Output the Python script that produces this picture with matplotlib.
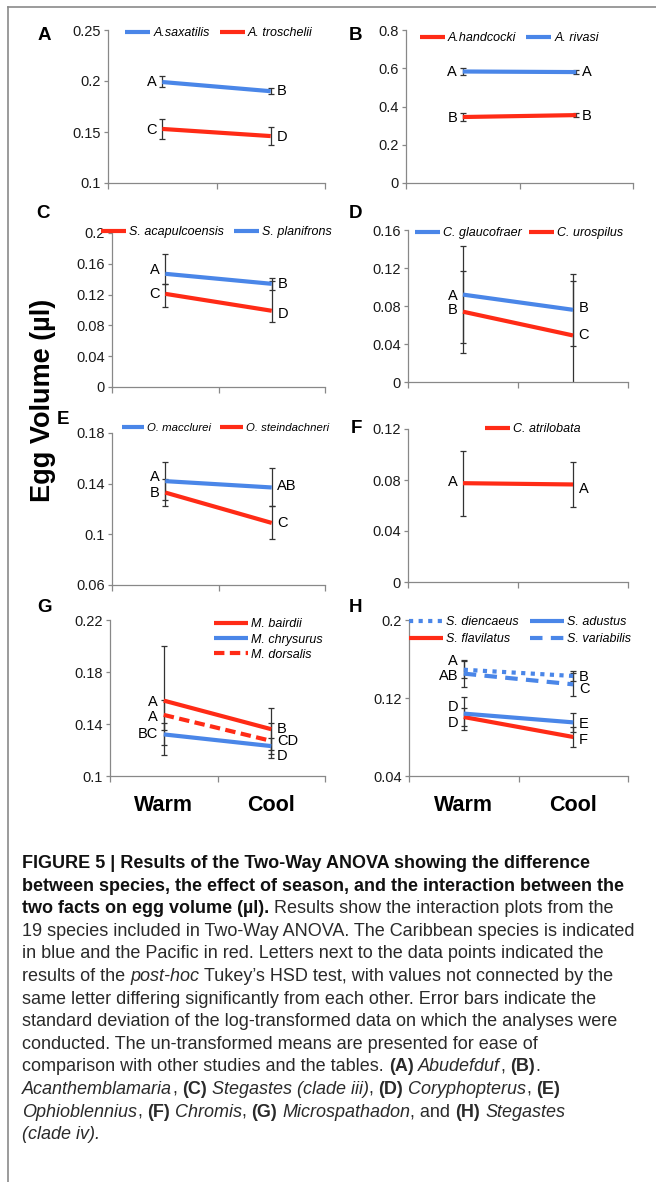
import matplotlib
matplotlib.use("Agg")
import matplotlib.pyplot as plt
from matplotlib import font_manager
from matplotlib.lines import Line2D
from matplotlib.ticker import FuncFormatter
import numpy as np

plt.rcParams['font.family'] = ['Liberation Sans', 'DejaVu Sans']

BLUE = '#4a86e8'
RED = '#ff2b16'

seasons = ['Warm', 'Cool']

# ---- panel A: Abudefduf ----
a_names = ['A.saxatilis', 'A. troschelii']
a_means = [[0.199, 0.190], [0.153, 0.146]]
a_lo = [[0.005, 0.003], [0.010, 0.009]]
a_hi = [[0.006, 0.003], [0.010, 0.009]]
a_letters = [['A', 'B'], ['C', 'D']]

# ---- panel B: Acanthemblemaria ----
b_names = ['A.handcocki', 'A. rivasi']
b_means = [[0.345, 0.355], [0.583, 0.580]]
b_lo = [[0.020, 0.012], [0.018, 0.012]]
b_hi = [[0.020, 0.012], [0.018, 0.012]]
b_letters = [['B', 'B'], ['A', 'A']]

# ---- panel C: Stegastes (clade iii) ----
c_names = ['S. acapulcoensis', 'S. planifrons']
c_means = [[0.121, 0.099], [0.147, 0.134]]
c_lo = [[0.017, 0.014], [0.013, 0.008]]
c_hi = [[0.013, 0.039], [0.026, 0.008]]
c_letters = [['C', 'D'], ['A', 'B']]

# ---- panel D: Coryphopterus ----
d_names = ['C. glaucofraer', 'C. urospilus']
d_means = [[0.092, 0.076], [0.074, 0.049]]
d_lo = [[0.051, 0.038], [0.043, 0.057]]
d_hi = [[0.051, 0.038], [0.043, 0.057]]
d_letters = [['A', 'B'], ['B', 'C']]

# ---- panel E: Ophioblennius ----
e_names = ['O. macclurei', 'O. steindachneri']
e_means = [[0.142, 0.137], [0.133, 0.109]]
e_lo = [[0.015, 0.015], [0.011, 0.013]]
e_hi = [[0.015, 0.015], [0.011, 0.013]]
e_letters = [['A', 'AB'], ['B', 'C']]

# ---- panel F: Chromis ----
f_names = ['C. atrilobata']
f_means = [[0.0775, 0.0765]]
f_lo = [[0.0255, 0.018]]
f_hi = [[0.0255, 0.018]]
f_letters = [['A', 'A']]

# ---- panel G: Microspathodon ----
g_names = ['M. bairdii', 'M. chrysurus', 'M. dorsalis']
g_means = [[0.158, 0.136], [0.132, 0.123], [0.147, 0.127]]
g_lo = [[0.042, 0.016], [0.0085, 0.006], [0.0115, 0.0135]]
g_hi = [[0.042, 0.016], [0.0085, 0.006], [0.0115, 0.0135]]
g_letters = [['A', 'B'], ['BC', 'D'], ['A', 'CD']]

# ---- panel H: Stegastes (clade iv) ----
h_names = ['S. diencaeus', 'S. flavilatus', 'S. adustus', 'S. variabilis']
h_means = [[0.149, 0.1426], [0.1005, 0.080], [0.104, 0.095], [0.145, 0.134]]
h_lo = [[0.0085, 0.0055], [0.009, 0.010], [0.017, 0.010], [0.014, 0.012]]
h_hi = [[0.0085, 0.0055], [0.009, 0.010], [0.017, 0.010], [0.014, 0.012]]
h_letters = [['A', 'B'], ['D', 'F'], ['D', 'E'], ['AB', 'C']]

W, H = 656, 1182
fig = plt.figure(figsize=(W / 100, H / 100), dpi=100)


def px_axes(x0, x1, y0, y1):
    return fig.add_axes([x0 / W, 1 - y1 / H, (x1 - x0) / W, (y1 - y0) / H])


def panel(ax, names, means, lo, hi, letters, colors, styles, dys, ylim, yticks):
    xs = np.array([0.5, 1.5])
    for i in range(len(names)):
        ax.errorbar(xs, means[i], yerr=[lo[i], hi[i]], fmt='none', ecolor='#333333',
                    elinewidth=0.9, capsize=2.5, capthick=0.9, zorder=2)
    for i in range(len(names)):
        ax.plot(xs, means[i], color=colors[i], lw=3, linestyle=styles[i],
                label=names[i], zorder=3, solid_capstyle='butt')
        ax.annotate(letters[i][0], (xs[0], means[i][0]), xytext=(-4, dys[i][0]),
                    textcoords='offset points', ha='right', va='center', fontsize=10.5)
        ax.annotate(letters[i][1], (xs[1], means[i][1]), xytext=(4, dys[i][1]),
                    textcoords='offset points', ha='left', va='center', fontsize=10.5)
    ax.set_xlim(0, 2)
    ax.set_ylim(*ylim)
    ax.set_yticks(yticks)
    ax.set_xticks([0, 1, 2])
    ax.set_xticklabels([])
    ax.yaxis.set_major_formatter(FuncFormatter(lambda v, p: f'{v:g}'))
    for s in ['top', 'right']:
        ax.spines[s].set_visible(False)
    for s in ['left', 'bottom']:
        ax.spines[s].set_color('#888888')
        ax.spines[s].set_linewidth(0.9)
    ax.tick_params(axis='y', length=3, width=0.9, color='#888888', labelsize=10.5,
                   labelcolor='#1a1a1a', pad=2)
    ax.tick_params(axis='x', length=4, width=0.9, color='#888888')
    ax.patch.set_alpha(0)


def leg(ax, ncol, anchor, size=9, **kw):
    return ax.legend(loc='upper left', bbox_to_anchor=anchor, ncol=ncol, frameon=False,
                     prop={'style': 'italic', 'size': size}, borderpad=0, borderaxespad=0,
                     handletextpad=0.25, **kw)


axA = px_axes(108, 325, 30, 183)
panel(axA, a_names, a_means, a_lo, a_hi, a_letters, [BLUE, RED], ['-', '-'],
      [[0, 0], [-1, -1]], (0.1, 0.25), np.arange(0.1, 0.26, 0.05))
leg(axA, 2, (0.08, 1.017), handlelength=2.0, columnspacing=0.8)

axB = px_axes(406, 633, 30, 183)
panel(axB, b_names, b_means, b_lo, b_hi, b_letters, [RED, BLUE], ['-', '-'],
      [[-1, -1], [0, 0]], (0, 0.8), np.arange(0, 0.81, 0.2))
leg(axB, 2, (0.06, 0.984), handlelength=2.0, columnspacing=0.8)

axC = px_axes(112, 325, 233, 387)
panel(axC, c_names, c_means, c_lo, c_hi, c_letters, [RED, BLUE], ['-', '-'],
      [[0, -2], [3, 0]], (0, 0.2), np.arange(0, 0.201, 0.04))
leg(axC, 2, (-0.05, 1.043), handlelength=2.0, columnspacing=0.8)

axD = px_axes(408, 628, 230, 382)
panel(axD, d_names, d_means, d_lo, d_hi, d_letters, [BLUE, RED], ['-', '-'],
      [[-1, 1], [1, 0]], (0, 0.16), np.arange(0, 0.161, 0.04))
leg(axD, 2, (0.03, 1.017), handlelength=2.0, columnspacing=0.6)

axE = px_axes(112, 325, 433, 585)
panel(axE, e_names, e_means, e_lo, e_hi, e_letters, [BLUE, RED], ['-', '-'],
      [[3, 1], [0, 0]], (0.06, 0.18), np.arange(0.06, 0.181, 0.04))
leg(axE, 2, (0.045, 1.063), size=8.2, handlelength=2.0, columnspacing=0.8)

axF = px_axes(408, 628, 429, 582)
panel(axF, f_names, f_means, f_lo, f_hi, f_letters, [RED], ['-'],
      [[0.7, -3.4]], (0, 0.12), np.arange(0, 0.121, 0.04))
leg(axF, 1, (0.35, 1.037), handlelength=2.0)

axG = px_axes(110, 325, 620, 776)
panel(axG, g_names, g_means, g_lo, g_hi, g_letters, [RED, BLUE, RED],
      ['-', '-', (0, (2.5, 1.3))],
      [[-1, 0.5], [0, -7], [-1.7, 0]], (0.1, 0.22), np.arange(0.1, 0.221, 0.04))
leg(axG, 1, (0.485, 1.01), handlelength=2.7, labelspacing=0.25)

axH = px_axes(409, 628, 620, 776)
panel(axH, h_names, h_means, h_lo, h_hi, h_letters, [BLUE, RED, BLUE, BLUE],
      [(0, (1, 1.3)), '-', '-', (0, (3, 2))],
      [[6, -1], [-4, -2.4], [4.8, -1], [-1.7, -3.6]], (0.04, 0.2), [0.04, 0.12, 0.2])
leg(axH, 2, (0.0, 1.023), handlelength=2.7, labelspacing=0.4, columnspacing=0.9)

for ax in [axG, axH]:
    for xv, lab in zip([0.5, 1.5], seasons):
        ax.annotate(lab, (xv, 0), xycoords=('data', 'axes fraction'), xytext=(0, -21),
                    textcoords='offset points', ha='center', va='center',
                    fontsize=15.5, fontweight='bold')

# panel letters
for lab, x, y in [('A', 44, 35), ('B', 355, 35), ('C', 43, 213), ('D', 355, 213),
                  ('E', 63, 420), ('F', 356, 428), ('G', 44, 607), ('H', 355, 607)]:
    fig.text(x / W, 1 - y / H, lab, fontsize=13.5, fontweight='bold', ha='center', va='center')

fig.text(43 / W, 1 - 400 / H, 'Egg Volume (µl)', rotation=90, fontsize=19.5,
         fontweight='bold', ha='center', va='center')

# frame
fig.add_artist(Line2D([8 / W, 1], [1 - 7 / H, 1 - 7 / H], color='#8a8a8a', lw=1.2,
                      transform=fig.transFigure))
fig.add_artist(Line2D([8 / W, 8 / W], [1 - 7 / H, 0], color='#8a8a8a', lw=1.2,
                      transform=fig.transFigure))

# caption
names = [f.name for f in font_manager.fontManager.ttflist]
cap_fam = ['Liberation Sans Narrow', 'DejaVu Sans'] if 'Liberation Sans Narrow' in names \
    else ['Liberation Sans', 'DejaVu Sans']
CAP_SIZE = 13.0
B_, I_, N_ = ('bold', 'normal'), ('normal', 'italic'), ('normal', 'normal')
caption = [
    [('FIGURE 5 | Results of the Two-Way ANOVA showing the difference', B_)],
    [('between species, the effect of season, and the interaction between the', B_)],
    [('two facts on egg volume (µl).', B_), (' Results show the interaction plots from the', N_)],
    [('19 species included in Two-Way ANOVA. The Caribbean species is indicated', N_)],
    [('in blue and the Pacific in red. Letters next to the data points indicated the', N_)],
    [('results of the ', N_), ('post-hoc', I_), (' Tukey’s HSD test, with values not connected by the', N_)],
    [('same letter differing significantly from each other. Error bars indicate the', N_)],
    [('standard deviation of the log-transformed data on which the analyses were', N_)],
    [('conducted. The un-transformed means are presented for ease of', N_)],
    [('comparison with other studies and the tables. ', N_), ('(A)', B_), (' ', N_),
     ('Abudefduf', I_), (', ', N_), ('(B)', B_), ('.', N_)],
    [('Acanthemblamaria', I_), (', ', N_), ('(C)', B_), (' ', N_), ('Stegastes (clade iii)', I_),
     (', ', N_), ('(D)', B_), (' ', N_), ('Coryphopterus', I_), (', ', N_), ('(E)', B_)],
    [('Ophioblennius', I_), (', ', N_), ('(F)', B_), (' ', N_), ('Chromis', I_), (', ', N_),
     ('(G)', B_), (' ', N_), ('Microspathadon', I_), (', and ', N_), ('(H)', B_), (' ', N_),
     ('Stegastes', I_)],
    [('(clade iv).', I_)],
]

renderer = fig.canvas.get_renderer()


def text_w(s, st):
    t = fig.text(0, 0, s, fontsize=CAP_SIZE, fontweight=st[0], fontstyle=st[1], family=cap_fam)
    w = t.get_window_extent(renderer).width
    t.remove()
    return w


def advance(s, st):
    # width of s measured between two 'l' glyphs so spaces and bearings count
    return text_w('l' + s + 'l', st) - text_w('ll', st)


for i, line in enumerate(caption):
    x = 22.0
    yb = 868 + 22.6 * i
    for s, st in line:
        lead = len(s) - len(s.lstrip(' '))
        core = s.strip(' ')
        xc = x + (advance(' ' * lead, st) if lead else 0)
        if core:
            col = '#111111' if st == B_ and i < 3 else '#2a2a2a'
            fig.text(xc / W, 1 - yb / H, core, fontsize=CAP_SIZE, fontweight=st[0],
                     fontstyle=st[1], family=cap_fam, color=col, va='baseline')
        x += advance(s, st)

fig.savefig('out.png', dpi=100)
